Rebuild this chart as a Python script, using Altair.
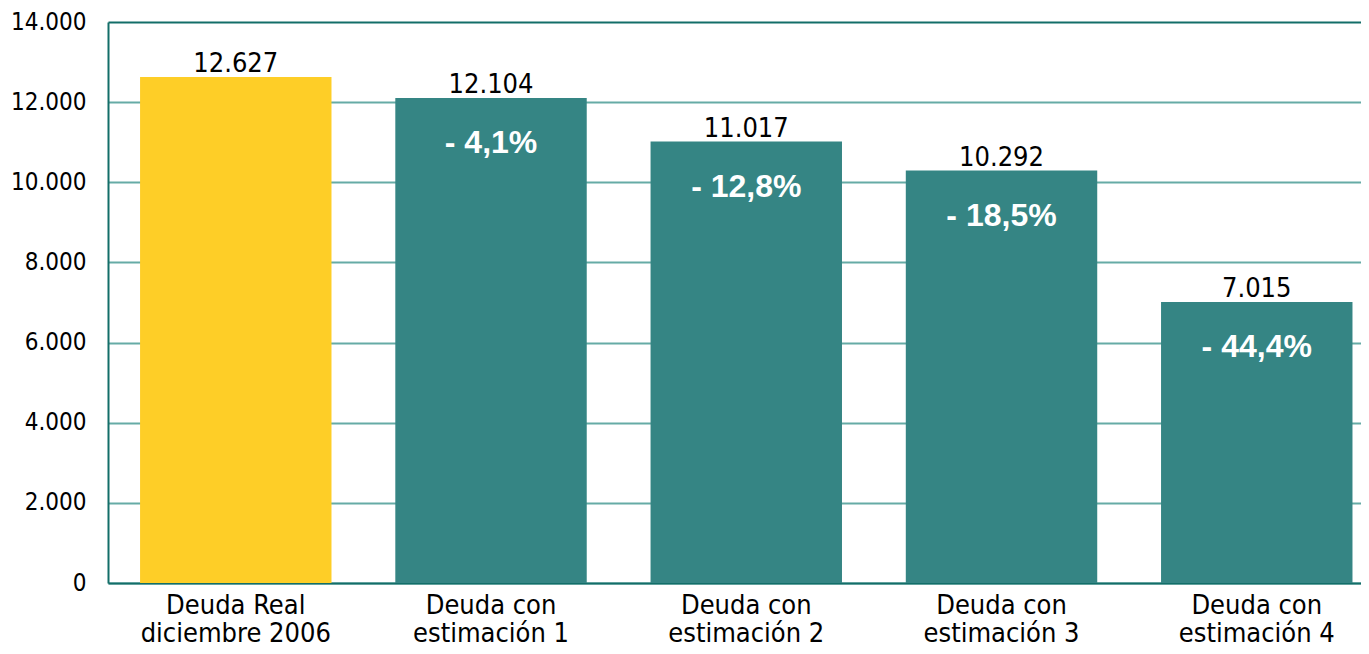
import altair as alt
import pandas as pd

categories = ["Deuda Real\ndiciembre 2006", "Deuda con\nestimación 1", "Deuda con\nestimación 2",
              "Deuda con\nestimación 3", "Deuda con\nestimación 4"]
values = [12627, 12104, 11017, 10292, 7015]
pct_labels = ["", "- 4,1%", "- 12,8%", "- 18,5%", "- 44,4%"]
colors = ["#FECE27", "#358584", "#358584", "#358584", "#358584"]
y_ticks = [0, 2000, 4000, 6000, 8000, 10000, 12000, 14000]

df = pd.DataFrame({
    "cat": categories,
    "value": values,
    "vlabel": [f"{v:,}".replace(",", ".") for v in values],
    "pct": pct_labels,
    "color": colors,
})

FONT = "DejaVu Sans Condensed"
DARK = "#136E69"

x_enc = alt.X("cat:N", sort=categories, title=None,
              scale=alt.Scale(paddingInner=0.25, paddingOuter=0.0795, align=0.79),
              axis=alt.Axis(labelAngle=0, labelExpr="split(datum.label, '\\n')",
                            labelFont=FONT, labelFontSize=27, labelColor="#000000",
                            labelLineHeight=28, labelPadding=30, ticks=False,
                            domain=True, domainColor=DARK, domainWidth=2,
                            labelBaseline="alphabetic", labelLimit=400))
y_enc = alt.Y("value:Q", title=None,
              scale=alt.Scale(domain=[0, 14000], nice=False),
              axis=alt.Axis(values=y_ticks, labelExpr="replace(format(datum.value, ','), ',', '.')",
                            labelFont=FONT, labelFontSize=24, labelColor="#000000",
                            labelPadding=22, ticks=False,
                            domain=True, domainColor=DARK, domainWidth=2,
                            grid=True, gridWidth=2,
                            gridColor={"condition": {"test": "datum.value == 14000", "value": DARK},
                                       "value": "#66ABA6"}))

base = alt.Chart(df).encode(x=x_enc, y=y_enc)

bars = base.mark_bar().encode(color=alt.Color("color:N", scale=None))

vals = base.mark_text(baseline="alphabetic", dy=-5, font=FONT, fontSize=27, color="#000000").encode(
    text="vlabel:N")

pcts = base.transform_filter("datum.pct != ''").mark_text(
    baseline="middle", dy=45, font="Liberation Sans", fontWeight="bold", fontSize=32,
    color="#FFFFFF").encode(text="pct:N")

chart = (bars + vals + pcts).properties(
    width=1253, height=561,
    autosize=alt.AutoSizeParams(type="none"),
    padding={"left": 100, "top": 14, "right": 0, "bottom": 63},
    background="#FFFFFF",
).configure_view(stroke=None)

chart.save("out.html", embed_options={"renderer": "svg", "actions": False})
